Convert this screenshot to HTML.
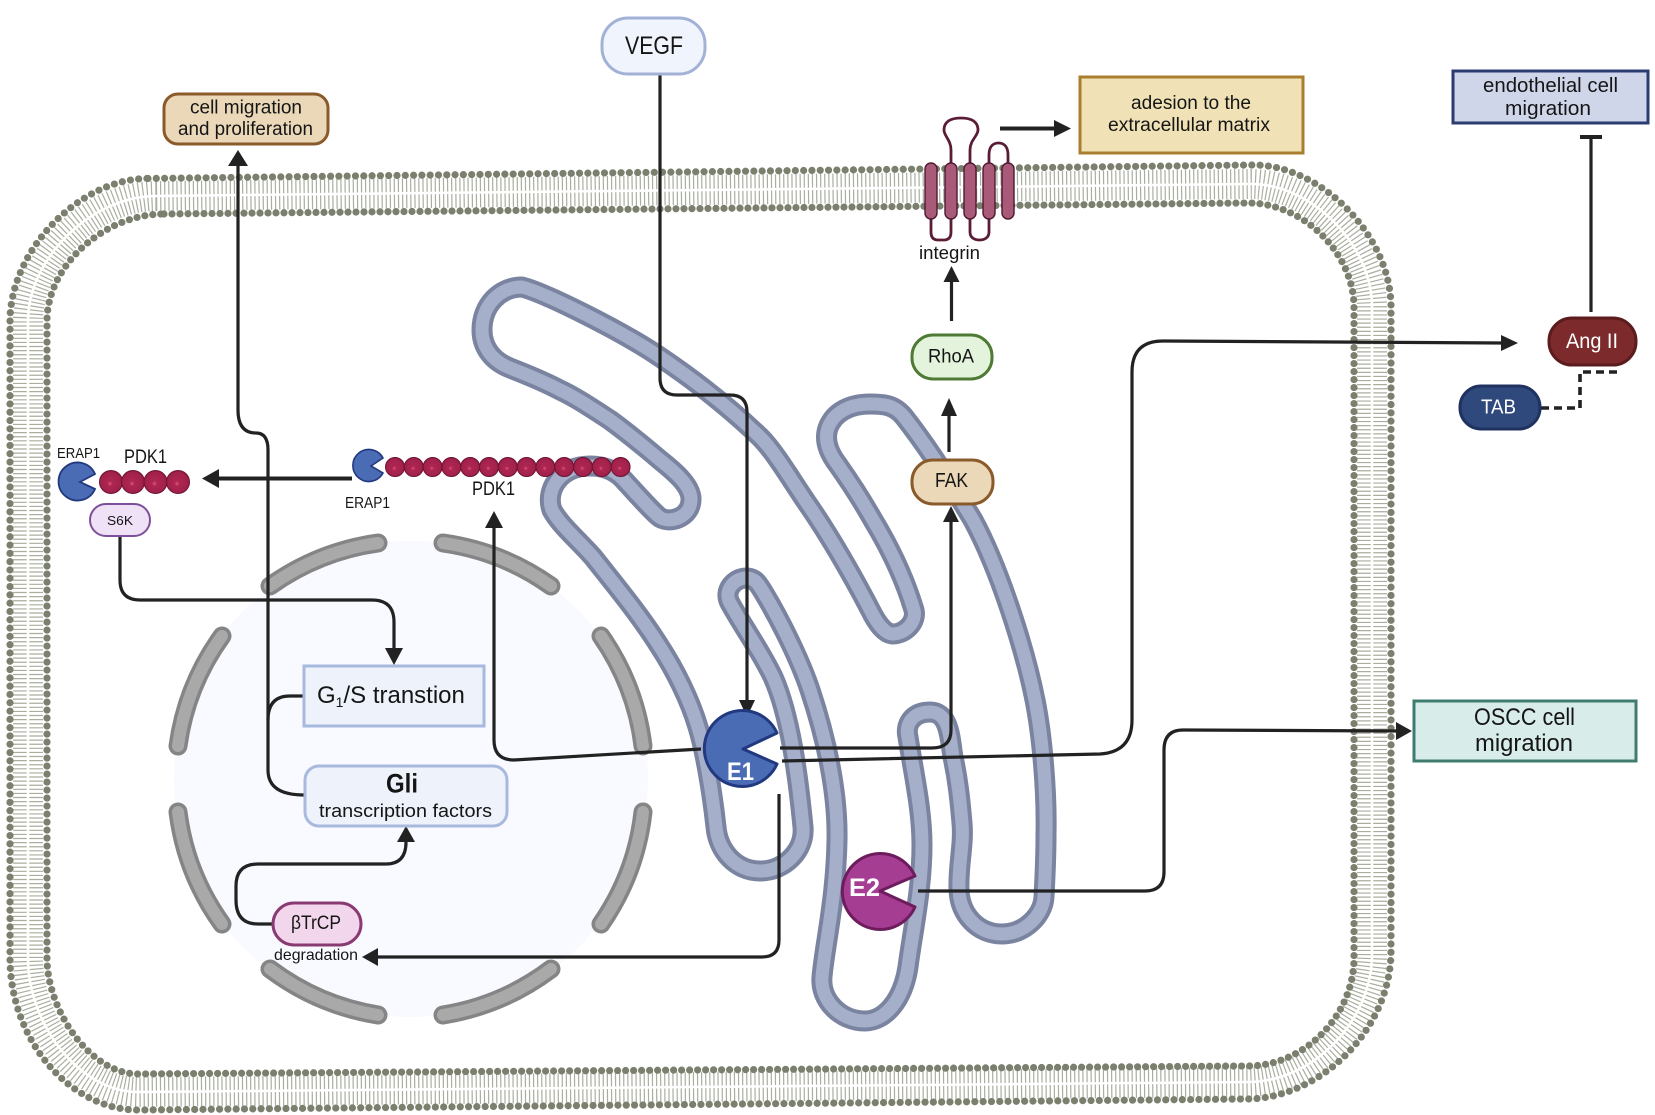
<!DOCTYPE html>
<html><head><meta charset="utf-8"><title>Diagram</title>
<style>html,body{margin:0;padding:0;background:#fff}svg{display:block}
text{font-family:"Liberation Sans","DejaVu Sans",sans-serif;fill:#151515}</style></head>
<body>
<svg xmlns="http://www.w3.org/2000/svg" width="1655" height="1115" viewBox="0 0 1655 1115">
<defs>
<radialGradient id="b" cx="50%" cy="50%" r="55%" fx="45%" fy="58%">
<stop offset="0" stop-color="#e0567f"/><stop offset=".2" stop-color="#ad2651"/><stop offset=".8" stop-color="#a2214b"/><stop offset="1" stop-color="#7a1738"/>
</radialGradient>
</defs>
<rect width="1655" height="1115" fill="#fff"/>

<!-- membrane -->
<path d="M156 196 L1251 184 C1312 184 1372 245 1372 307 L1372 954 C1372 1022 1312 1082 1248 1082 L138 1092 C80 1092 28 1025 28 958 L28 321 C28 258 92 196 156 196Z" fill="none" stroke="#a9ae9f" stroke-width="30" stroke-dasharray="1.2 2.9"/>
<path d="M156 196 L1251 184 C1312 184 1372 245 1372 307 L1372 954 C1372 1022 1312 1082 1248 1082 L138 1092 C80 1092 28 1025 28 958 L28 321 C28 258 92 196 156 196Z" fill="none" stroke="#fff" stroke-width="2.5"/>
<path d="M148 178.5 L1254 165 C1320 165 1391 235 1391 307 L1391 951 C1391 1030 1320 1098 1248 1099 L138 1110 C70 1110 10 1040 10 958 L10 321 C10 250 80 178.5 148 178.5Z" fill="none" stroke="#7a7f6e" stroke-width="7.2" stroke-linecap="round" stroke-dasharray="0 8.3"/>
<path d="M164 214 L1248 203 C1305 203 1354 255 1354 307 L1354 958 C1354 1015 1305 1066 1248 1066 L138 1074 C90 1074 47 1010 47 958 L47 321 C47 265 105 214 164 214Z" fill="none" stroke="#7a7f6e" stroke-width="7.2" stroke-linecap="round" stroke-dasharray="0 8"/>

<!-- nucleus -->
<ellipse cx="411" cy="779" rx="237" ry="238" fill="#f8faff"/>
<g fill="none" stroke-linecap="round">
<g stroke="#858585" stroke-width="19">
<path d="M270 586 A245 245 0 0 1 378 543"/><path d="M443 543 A245 245 0 0 1 551 586"/>
<path d="M222 636 A245 245 0 0 0 178 746"/><path d="M601 636 A245 245 0 0 1 643 746"/>
<path d="M178 812 A245 245 0 0 0 222 924"/><path d="M643 812 A245 245 0 0 1 601 924"/>
<path d="M270 969 A245 245 0 0 0 378 1015"/><path d="M443 1015 A245 245 0 0 0 551 969"/>
</g>
<g stroke="#a9a9a9" stroke-width="12">
<path d="M270 586 A245 245 0 0 1 378 543"/><path d="M443 543 A245 245 0 0 1 551 586"/>
<path d="M222 636 A245 245 0 0 0 178 746"/><path d="M601 636 A245 245 0 0 1 643 746"/>
<path d="M178 812 A245 245 0 0 0 222 924"/><path d="M643 812 A245 245 0 0 1 601 924"/>
<path d="M270 969 A245 245 0 0 0 378 1015"/><path d="M443 1015 A245 245 0 0 0 551 969"/>
</g>
</g>

<!-- golgi -->
<path d="M522 287 C545 293 620 330 660 357 C700 384 735 413 760 437 C775 452 790 478 807 503 C830 536 855 580 873 615 C879 626 886 634 893 634 C905 634 917 622 914 610 C905 580 890 548 873 520 C860 497 850 482 838 465 C828 452 824 440 828 428 C834 412 850 404 870 404 C885 404 895 405 905 418 C930 450 955 490 973 520 C1000 570 1025 650 1035 700 C1042 735 1047 790 1046 835 C1046 860 1045 875 1044 897 C1043 915 1025 934 1002 934 C978 934 960 915 959 890 C958 865 964 845 962 823 C960 800 958 780 953 757 C950 740 950 712 930 712 C912 712 905 725 908 737 C914 775 922 810 922 845 C922 890 912 935 908 967 C903 1000 885 1021 865 1021 C840 1021 820 1000 822 977 C824 950 836 900 837 840 C838 790 825 735 810 690 C800 660 780 620 765 595 C758 583 755 578 746 578 C735 578 723 590 730 603 C745 630 760 650 773 677 C790 715 798 775 803 827 C805 850 785 871 760 871 C735 871 718 850 716 827 C712 790 705 750 698 727 C690 700 675 670 660 647 C640 615 615 585 593 557 C578 540 560 525 552 510 C545 490 560 466 590 466 C600 466 612 468 622 478 C635 492 647 506 658 516 C668 525 692 518 691 498 C690 485 675 472 660 460 C640 443 625 431 610 420 C590 407 575 397 560 390 C545 382 528 375 510 368 C490 360 482 345 482 330 C482 305 500 287 522 287Z" fill="none" stroke="#7a84a0" stroke-width="21" stroke-linejoin="round"/>
<path d="M522 287 C545 293 620 330 660 357 C700 384 735 413 760 437 C775 452 790 478 807 503 C830 536 855 580 873 615 C879 626 886 634 893 634 C905 634 917 622 914 610 C905 580 890 548 873 520 C860 497 850 482 838 465 C828 452 824 440 828 428 C834 412 850 404 870 404 C885 404 895 405 905 418 C930 450 955 490 973 520 C1000 570 1025 650 1035 700 C1042 735 1047 790 1046 835 C1046 860 1045 875 1044 897 C1043 915 1025 934 1002 934 C978 934 960 915 959 890 C958 865 964 845 962 823 C960 800 958 780 953 757 C950 740 950 712 930 712 C912 712 905 725 908 737 C914 775 922 810 922 845 C922 890 912 935 908 967 C903 1000 885 1021 865 1021 C840 1021 820 1000 822 977 C824 950 836 900 837 840 C838 790 825 735 810 690 C800 660 780 620 765 595 C758 583 755 578 746 578 C735 578 723 590 730 603 C745 630 760 650 773 677 C790 715 798 775 803 827 C805 850 785 871 760 871 C735 871 718 850 716 827 C712 790 705 750 698 727 C690 700 675 670 660 647 C640 615 615 585 593 557 C578 540 560 525 552 510 C545 490 560 466 590 466 C600 466 612 468 622 478 C635 492 647 506 658 516 C668 525 692 518 691 498 C690 485 675 472 660 460 C640 443 625 431 610 420 C590 407 575 397 560 390 C545 382 528 375 510 368 C490 360 482 345 482 330 C482 305 500 287 522 287Z" fill="none" stroke="#a6afc9" stroke-width="13" stroke-linejoin="round"/>

<!-- integrin -->
<g fill="none" stroke="#5a1c36" stroke-width="2.8">
<path d="M951 165V150C951 140 944 136 944 130C944 122 950 118 961 118C972 118 978 122 978 130C978 136 970 140 970 150V165"/>
<path d="M989 165V155C989 148 992 143 998.5 143C1005 143 1008 148 1008 155V165"/>
<path d="M931 215V232Q931 240 938 240H944Q951 240 951 232V215"/>
<path d="M970 215V232C970 238 975 240 979.5 240C984 240 989 238 989 232V215"/>
</g>
<g fill="#a85a78" stroke="#4d1a30" stroke-width="1.4">
<rect x="925" y="163" width="12" height="56" rx="6"/>
<rect x="945" y="163" width="12" height="56" rx="6"/>
<rect x="964" y="163" width="12" height="56" rx="6"/>
<rect x="983" y="163" width="12" height="56" rx="6"/>
<rect x="1002" y="163" width="12" height="56" rx="6"/>
</g>

<!-- connectors -->
<g fill="none" stroke="#222" stroke-width="3.2">
<path d="M238 166V410Q238 433 256 433Q268 433 268 450V770Q268 795 304 795"/>
<path d="M304 696H290Q268 696 268 720"/>
<path d="M120 536V580Q120 600 140 600H372Q394 600 394 622V650"/>
<path d="M272 924H258Q236 924 236 900V886Q236 864 258 864H386Q406 864 406 842"/>
<path d="M779 794V940Q779 957 762 957H376"/>
<path d="M701 749L514 760Q494 760 494 740V526"/>
<path d="M660 74V378Q660 395 677 395H730Q747 395 747 412V702"/>
<path d="M780 748H932Q951 748 951 730V520"/>
<path d="M782 761L1100 754Q1132 752 1132 720V372Q1132 341 1163 341L1503 343"/>
<path d="M918 891H1145Q1164 891 1164 872V750Q1164 730 1183 730L1398 731"/>
<path d="M1591 312V137"/>
<path d="M951.500 321V280"/>
<path d="M949 452V414"/>
</g>
<path d="M1580 137H1602" stroke="#222" stroke-width="4" fill="none"/>
<path d="M1000 128.500H1056" stroke="#222" stroke-width="4" fill="none"/>
<path d="M219 478.500H352" stroke="#222" stroke-width="4" fill="none"/>
<path d="M1541 408H1580V372H1620" fill="none" stroke="#222" stroke-width="3.6" stroke-dasharray="8 5"/>
<g fill="#222">
<polygon points="238,150 228,166 248,166"/>
<polygon points="394,665 385,648 403,648"/>
<polygon points="406,826 397,842 415,842"/>
<polygon points="362,957 378,948 378,966"/>
<polygon points="494,511 485,528 503,528"/>
<polygon points="747,717 739,700 755,700"/>
<polygon points="951,506 943,522 959,522"/>
<polygon points="1518,343 1501,335 1501,351"/>
<polygon points="1412,731 1396,722 1396,740"/>
<polygon points="951.500,266 943.500,282 959.500,282"/>
<polygon points="949,398 941,416 957,416"/>
<polygon points="1071,128.500 1054,120 1054,137"/>
<polygon points="202,478.500 219,469 219,488"/>
</g>

<!-- enzymes -->
<path d="M743 749L777 733A38 38 0 1 0 777 764Z" fill="#4a6cb5" stroke="#22397f" stroke-width="3" stroke-linejoin="round"/>
<text x="727" y="780" font-size="25" font-weight="bold" style="fill:#fff" textLength="27" lengthAdjust="spacingAndGlyphs">E1</text>
<path d="M880 891L915 876A38 38 0 1 0 915 907Z" fill="#a53d92" stroke="#6d1c5d" stroke-width="3" stroke-linejoin="round"/>
<text x="849" y="896" font-size="25" font-weight="bold" style="fill:#fff" textLength="31" lengthAdjust="spacingAndGlyphs">E2</text>

<path d="M80 482L95 474A19 19 0 1 0 95 489Z" fill="#4a6cb5" stroke="#23397f" stroke-width="1.8"/>
<path d="M371 466L383 458A16 16 0 1 0 383 473Z" fill="#4a6cb5" stroke="#23397f" stroke-width="1.6"/>

<!-- beads -->
<g fill="url(#b)" stroke="#6e1434" stroke-width="1">
<circle cx="111" cy="482" r="11.500"/><circle cx="133" cy="482" r="11.500"/><circle cx="155.500" cy="482" r="11.500"/><circle cx="178" cy="482" r="11.500"/>
<circle cx="395" cy="467" r="9.500"/><circle cx="413.800" cy="467" r="9.500"/><circle cx="432.600" cy="467" r="9.500"/><circle cx="451.400" cy="467" r="9.500"/><circle cx="470.200" cy="467" r="9.500"/><circle cx="489" cy="467" r="9.500"/><circle cx="507.800" cy="467" r="9.500"/><circle cx="526.600" cy="467" r="9.500"/><circle cx="545.400" cy="467" r="9.500"/><circle cx="564.200" cy="467" r="9.500"/><circle cx="583" cy="467" r="9.500"/><circle cx="601.800" cy="467" r="9.500"/><circle cx="620.600" cy="467" r="9.500"/>
</g>

<!-- boxes -->
<rect x="602" y="18" width="103" height="56" rx="26" fill="#eff4fd" stroke="#a2b2d6" stroke-width="3"/>
<text x="625" y="54" font-size="25" textLength="58" lengthAdjust="spacingAndGlyphs">VEGF</text>

<rect x="164" y="94" width="164" height="50" rx="14" fill="#ead8b8" stroke="#8a5a2b" stroke-width="3"/>
<text x="190" y="113.500" font-size="19" textLength="112" lengthAdjust="spacingAndGlyphs">cell migration</text>
<text x="178" y="135" font-size="19" textLength="135" lengthAdjust="spacingAndGlyphs">and proliferation</text>

<rect x="1080" y="77" width="223" height="76" fill="#f0e2b6" stroke="#a97f2f" stroke-width="3"/>
<text x="1131" y="109" font-size="19" textLength="120" lengthAdjust="spacingAndGlyphs">adesion to the</text>
<text x="1108" y="131" font-size="19" textLength="162" lengthAdjust="spacingAndGlyphs">extracellular matrix</text>

<rect x="1453" y="71" width="195" height="52" fill="#d0d6ea" stroke="#2a3c72" stroke-width="3"/>
<text x="1483" y="92" font-size="20" textLength="135" lengthAdjust="spacingAndGlyphs">endothelial cell</text>
<text x="1505" y="115" font-size="20" textLength="86" lengthAdjust="spacingAndGlyphs">migration</text>

<rect x="1549" y="318" width="87" height="47" rx="23" fill="#7c2a2c" stroke="#5c1c1e" stroke-width="3"/>
<text x="1566" y="348" font-size="21" style="fill:#fff" textLength="52" lengthAdjust="spacingAndGlyphs">Ang II</text>

<rect x="1460" y="386" width="80" height="43" rx="21" fill="#30497d" stroke="#1f3260" stroke-width="3"/>
<text x="1481" y="413.500" font-size="20" style="fill:#fff" textLength="35" lengthAdjust="spacingAndGlyphs">TAB</text>

<rect x="912" y="335" width="80" height="44" rx="21" fill="#e4f4dc" stroke="#4e7a35" stroke-width="3"/>
<text x="928" y="362.500" font-size="19" textLength="46" lengthAdjust="spacingAndGlyphs">RhoA</text>

<rect x="912" y="460" width="81" height="44" rx="21" fill="#ead8b8" stroke="#8a5a2b" stroke-width="3"/>
<text x="935" y="487" font-size="20" textLength="33" lengthAdjust="spacingAndGlyphs">FAK</text>

<rect x="1414" y="701" width="222" height="60" fill="#d8ecea" stroke="#3f7c6f" stroke-width="3"/>
<text x="1474" y="725" font-size="24" textLength="101" lengthAdjust="spacingAndGlyphs">OSCC cell</text>
<text x="1475" y="751" font-size="24" textLength="98" lengthAdjust="spacingAndGlyphs">migration</text>

<rect x="304" y="666" width="180" height="60" fill="#eef3fb" stroke="#a7b9dc" stroke-width="3"/>
<text x="317" y="703" font-size="24">G<tspan font-size="14" dy="4">1</tspan><tspan dy="-4">/S transtion</tspan></text>

<rect x="305" y="766" width="202" height="60" rx="14" fill="#eef3fb" stroke="#a7b9dc" stroke-width="3"/>
<text x="386" y="792.500" font-size="27" font-weight="bold" textLength="32" lengthAdjust="spacingAndGlyphs">Gli</text>
<text x="319" y="817" font-size="18.500" textLength="173" lengthAdjust="spacingAndGlyphs">transcription factors</text>

<rect x="273" y="903" width="88" height="42" rx="21" fill="#f2d6ec" stroke="#8a3a72" stroke-width="3"/>
<text x="291" y="929" font-size="19" textLength="50" lengthAdjust="spacingAndGlyphs">βTrCP</text>
<text x="274" y="960" font-size="16" textLength="84" lengthAdjust="spacingAndGlyphs">degradation</text>

<rect x="90" y="504" width="60" height="32" rx="16" fill="#f0e2f6" stroke="#7d4f9d" stroke-width="2"/>
<text x="107" y="525" font-size="13" textLength="26" lengthAdjust="spacingAndGlyphs">S6K</text>

<text x="57" y="458" font-size="15" textLength="43" lengthAdjust="spacingAndGlyphs">ERAP1</text>
<text x="124" y="463" font-size="19" textLength="43" lengthAdjust="spacingAndGlyphs">PDK1</text>
<text x="345" y="508" font-size="15.500" textLength="45" lengthAdjust="spacingAndGlyphs">ERAP1</text>
<text x="472" y="495" font-size="19" textLength="43" lengthAdjust="spacingAndGlyphs">PDK1</text>
<text x="919" y="259" font-size="18" textLength="61" lengthAdjust="spacingAndGlyphs">integrin</text>
</svg>
</body></html>
